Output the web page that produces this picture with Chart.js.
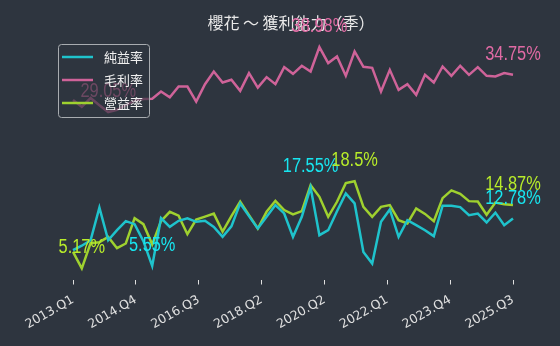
<!DOCTYPE html>
<html><head><meta charset="utf-8">
<script src="https://cdn.jsdelivr.net/npm/chart.js@4.4.1/dist/chart.umd.min.js"></script>
<style>html,body{margin:0;padding:0;background:#2e353f;}#wrap{width:560px;height:346px;position:relative;}</style>
</head><body><div id="wrap"><canvas id="c"></canvas></div>
<script>
const chartTitle = '櫻花 ～ 獲利能力（季）';
const seriesNames = ['純益率', '毛利率', '營益率'];
const quarters = [
 '2013.Q1','2013.Q2','2013.Q3','2013.Q4','2014.Q1','2014.Q2','2014.Q3','2014.Q4',
 '2015.Q1','2015.Q2','2015.Q3','2015.Q4','2016.Q1','2016.Q2','2016.Q3','2016.Q4',
 '2017.Q1','2017.Q2','2017.Q3','2017.Q4','2018.Q1','2018.Q2','2018.Q3','2018.Q4',
 '2019.Q1','2019.Q2','2019.Q3','2019.Q4','2020.Q1','2020.Q2','2020.Q3','2020.Q4',
 '2021.Q1','2021.Q2','2021.Q3','2021.Q4','2022.Q1','2022.Q2','2022.Q3','2022.Q4',
 '2023.Q1','2023.Q2','2023.Q3','2023.Q4','2024.Q1','2024.Q2','2024.Q3','2024.Q4',
 '2025.Q1','2025.Q2','2025.Q3'];
const tickLabels = ['2013.Q1','2014.Q4','2016.Q3','2018.Q2','2020.Q2','2022.Q1','2023.Q4','2025.Q3'];
const netMargin = [7.95,8.64,9.48,14.46,9.48,11.01,12.39,11.93,9.33,5.55,
 12.85,11.52,12.44,12.81,12.29,12.44,11.52,9.99,11.6,15.1,
 13.16,11.27,13.05,14.84,13.57,9.99,13.05,17.55,10.25,11.01,
 13.9,16.63,15.1,7.69,5.92,12.29,14.18,9.99,12.55,11.78,
 11.01,10.1,14.76,14.76,14.54,13.31,13.54,12.19,13.69,11.78,12.78];
const grossMargin = [30.9,29.85,31.2,30.1,29.05,29.4,30.1,30.75,31.05,31.1,
 32.2,31.3,32.95,32.95,30.65,33.3,35.25,33.56,33.98,32.29,
 35.0,32.8,34.39,33.32,35.92,34.89,36.12,35.25,38.98,36.53,
 37.54,34.59,38.31,35.96,35.81,32.18,35.5,32.44,33.32,31.68,
 34.74,33.56,36.01,34.59,36.12,34.74,35.92,34.59,34.48,35.0,34.75];
const opMargin = [7.69,5.17,9.03,9.18,9.99,8.26,8.98,12.85,11.93,8.85,
 12.4,13.82,13.23,10.4,12.62,13.08,13.54,10.79,13.16,15.38,
 13.31,11.27,13.82,15.5,14.08,13.42,13.92,17.9,16.11,13.05,
 15.35,18.2,18.5,14.58,13.05,14.58,14.84,12.55,12.04,14.34,
 13.5,12.39,15.91,17.09,16.57,15.45,15.38,13.36,15.22,14.99,14.87];

const BG = '#2e353f';
const lineColors = ['#1fc3cc', '#cf6399', '#9fd12f'];
const labelColors = ['#17e6f0', '#e06aa4', '#b8ec2a'];
const seriesData = [netMargin, grossMargin, opMargin];

const n = quarters.length;
const tickPos = tickLabels.map((_, k) => k * (n - 1) / (tickLabels.length - 1));

const canvas = document.getElementById('c');
canvas.width = 560; canvas.height = 346;

const decor = {
  id: 'decor',
  beforeDraw(chart) {
    const c = chart.ctx;
    c.save(); c.fillStyle = BG; c.fillRect(0, 0, chart.width, chart.height); c.restore();
  },
  beforeDatasetsDraw(chart) {
    const c = chart.ctx;
    c.save();
    c.font = '16px "Noto Sans CJK TC"';
    c.fillStyle = '#e8e8e8';
    c.textAlign = 'center'; c.textBaseline = 'middle';
    c.fillText(chartTitle, 291, 23);
    c.restore();
  },
  afterDatasetsDraw(chart) {
    const c = chart.ctx;
    const xs = chart.scales.x, ys = chart.scales.y;
    c.save();
    c.font = '20px "Liberation Sans", sans-serif';
    c.textAlign = 'center'; c.textBaseline = 'alphabetic';
    [1, 0, 2].forEach(s => {
      const d = seriesData[s];
      const mx = d.indexOf(Math.max(...d));
      const mn = d.indexOf(Math.min(...d));
      const idxs = [mx, mn, d.length - 1];
      c.fillStyle = labelColors[s];
      idxs.forEach(i => {
        const px = xs.getPixelForValue(i), py = ys.getPixelForValue(d[i]);
        c.save();
        c.translate(px, py - 15);
        c.scale(0.82, 1);
        c.fillText(d[i] + '%', 0, 0);
        c.restore();
      });
    });
    c.restore();
  },
  afterDraw(chart) {
    const c = chart.ctx;
    c.save();
    const x = 58.5, y = 44.5, w = 91, h = 73, r = 3;
    c.beginPath();
    c.moveTo(x + r, y); c.lineTo(x + w - r, y); c.arcTo(x + w, y, x + w, y + r, r);
    c.lineTo(x + w, y + h - r); c.arcTo(x + w, y + h, x + w - r, y + h, r);
    c.lineTo(x + r, y + h); c.arcTo(x, y + h, x, y + h - r, r);
    c.lineTo(x, y + r); c.arcTo(x, y, x + r, y, r); c.closePath();
    c.fillStyle = 'rgba(46,53,63,0.65)'; c.fill();
    c.strokeStyle = '#a8acb0'; c.lineWidth = 1; c.stroke();
    const rows = [57, 80, 103];
    c.font = '13px "Noto Sans CJK TC"';
    c.textAlign = 'left'; c.textBaseline = 'middle';
    rows.forEach((ry, k) => {
      c.strokeStyle = lineColors[k]; c.lineWidth = 2.5;
      c.beginPath(); c.moveTo(62, ry); c.lineTo(93, ry); c.stroke();
      c.fillStyle = '#f0f0f0';
      c.fillText(seriesNames[k], 104, ry);
    });
    c.restore();
  }
};

new Chart(canvas, {
  type: 'line',
  data: {
    datasets: seriesData.map((d, s) => ({
      label: seriesNames[s],
      data: d.map((v, i) => ({ x: i, y: v })),
      borderColor: lineColors[s],
      borderWidth: 2.5,
      pointRadius: 0,
      tension: 0,
      fill: false
    }))
  },
  options: {
    responsive: false,
    animation: false,
    devicePixelRatio: 1,
    layout: { padding: { left: 51, right: 25, top: 36, bottom: 0 } },
    plugins: { legend: { display: false }, title: { display: false }, tooltip: { enabled: false } },
    scales: {
      x: {
        type: 'linear', min: -2.5, max: 52.5,
        afterBuildTicks: s => { s.ticks = tickPos.map(v => ({ value: v })); },
        afterFit: s => { s.height = 66.5; },
        ticks: {
          autoSkip: false, minRotation: 30, maxRotation: 30, padding: 8,
          color: '#e0e0e0', font: { family: 'DejaVu Sans', size: 12.5 },
          callback: (v, i) => tickLabels[i]
        },
        grid: { display: true, drawOnChartArea: false, drawTicks: true, tickLength: 5, color: '#e0e0e0', lineWidth: 1 },
        border: { display: false }
      },
      y: { type: 'linear', display: false, min: 3.48, max: 40.67 }
    }
  },
  plugins: [decor]
});
</script></body></html>
